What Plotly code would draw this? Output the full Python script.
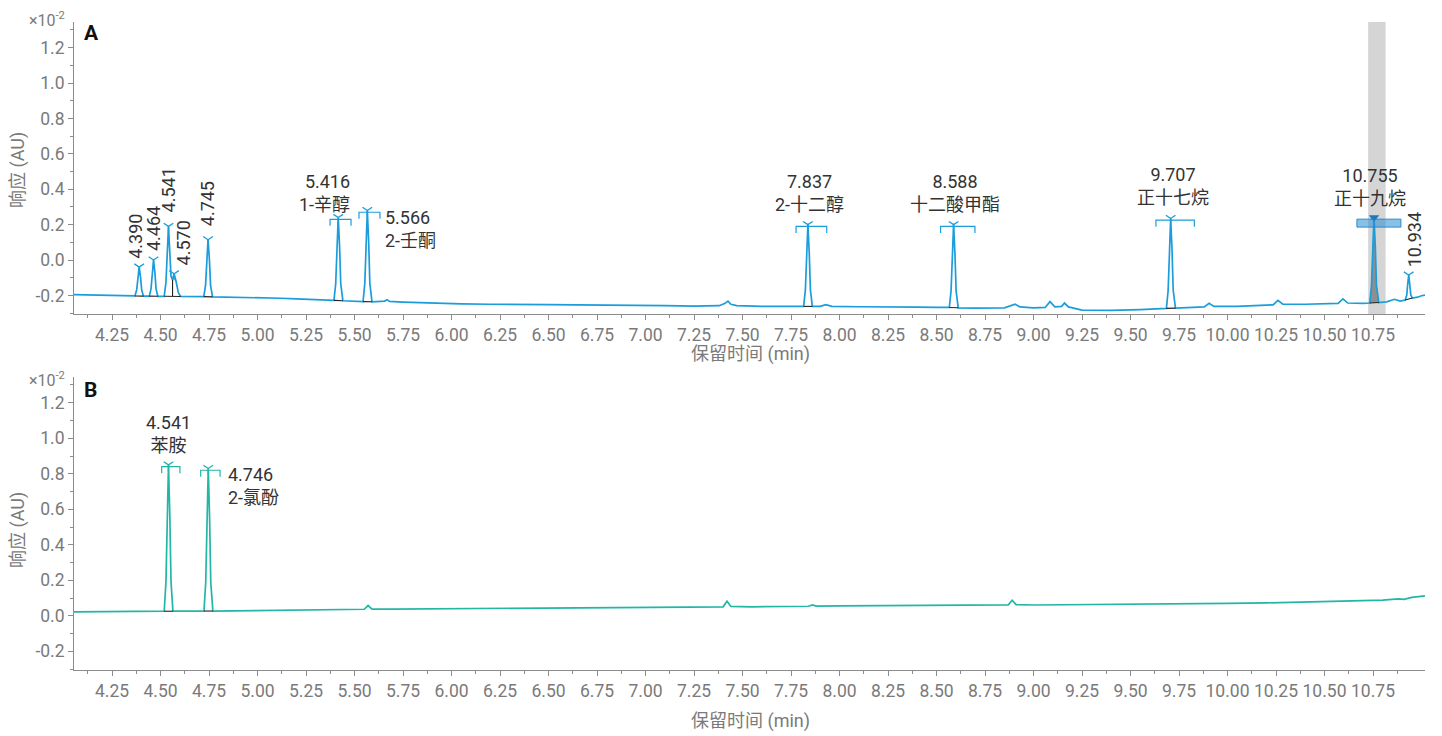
import plotly.graph_objects as go

# Chromatogram A: (retention time min, response AU x1e-2)
trace_a = [
    (4.054, -0.195), (4.10, -0.196), (4.15, -0.194), (4.19, -0.198), (4.22, -0.196), (4.28, -0.197),
    (4.33, -0.200), (4.355, -0.202),
    (4.368, -0.203), (4.377, -0.170), (4.383, -0.097), (4.390, -0.040), (4.397, -0.097), (4.403, -0.170),
    (4.412, -0.204),
    (4.428, -0.203),
    (4.442, -0.204), (4.451, -0.163), (4.457, -0.071), (4.464, 0.000), (4.471, -0.071), (4.477, -0.163),
    (4.486, -0.205),
    (4.505, -0.205),
    (4.519, -0.205), (4.528, -0.126), (4.534, 0.052), (4.541, 0.190), (4.548, 0.040), (4.554, -0.090),
    (4.562, -0.113), (4.570, -0.078), (4.580, -0.120), (4.592, -0.185), (4.604, -0.206),
    (4.65, -0.205), (4.70, -0.207),
    (4.723, -0.207), (4.732, -0.143), (4.738, 0.002), (4.745, 0.115), (4.752, 0.002), (4.758, -0.143),
    (4.768, -0.208),
    (4.85, -0.209), (4.95, -0.212), (5.05, -0.214), (5.12, -0.216), (5.20, -0.219), (5.28, -0.223), (5.35, -0.226),
    (5.394, -0.228), (5.403, -0.134), (5.409, 0.076), (5.416, 0.240), (5.423, 0.076), (5.429, -0.134),
    (5.440, -0.230),
    (5.49, -0.232), (5.52, -0.233),
    (5.544, -0.235), (5.553, -0.132), (5.559, 0.100), (5.566, 0.280), (5.573, 0.100), (5.579, -0.132),
    (5.590, -0.236),
    (5.63, -0.236), (5.655, -0.232), (5.668, -0.224), (5.68, -0.234), (5.75, -0.238), (5.85, -0.242),
    (5.95, -0.247), (6.05, -0.248), (6.20, -0.250), (6.35, -0.249), (6.50, -0.252), (6.65, -0.253),
    (6.80, -0.256), (6.95, -0.255), (7.10, -0.258), (7.25, -0.260), (7.38, -0.258), (7.41, -0.245),
    (7.425, -0.232), (7.44, -0.250), (7.47, -0.258), (7.60, -0.262), (7.75, -0.262),
    (7.815, -0.262), (7.824, -0.170), (7.830, 0.038), (7.837, 0.200), (7.844, 0.038), (7.850, -0.170),
    (7.860, -0.262),
    (7.90, -0.262), (7.93, -0.252), (7.96, -0.262), (8.10, -0.264), (8.25, -0.263), (8.40, -0.266), (8.50, -0.267),
    (8.566, -0.268), (8.575, -0.174), (8.581, 0.036), (8.588, 0.200), (8.595, 0.036), (8.601, -0.174),
    (8.612, -0.270),
    (8.70, -0.272), (8.85, -0.270), (8.89, -0.256), (8.905, -0.250), (8.93, -0.265), (9.00, -0.270),
    (9.06, -0.268), (9.085, -0.235), (9.11, -0.265), (9.145, -0.262), (9.16, -0.243), (9.18, -0.265),
    (9.25, -0.283), (9.40, -0.285), (9.55, -0.280), (9.65, -0.275),
    (9.685, -0.273), (9.694, -0.171), (9.700, 0.057), (9.707, 0.235), (9.714, 0.057), (9.720, -0.171),
    (9.732, -0.272),
    (9.80, -0.270), (9.88, -0.265), (9.905, -0.245), (9.93, -0.262), (10.05, -0.262), (10.20, -0.258),
    (10.235, -0.253), (10.26, -0.228), (10.285, -0.250), (10.40, -0.250), (10.50, -0.248), (10.57, -0.245),
    (10.595, -0.220), (10.62, -0.243), (10.70, -0.245),
    (10.733, -0.243), (10.742, -0.146), (10.748, 0.071), (10.755, 0.240), (10.762, 0.071), (10.768, -0.146),
    (10.780, -0.240),
    (10.82, -0.236), (10.86, -0.222), (10.89, -0.232),
    (10.916, -0.226), (10.924, -0.198), (10.929, -0.134), (10.934, -0.085), (10.939, -0.134), (10.945, -0.198),
    (10.953, -0.215),
    (10.98, -0.210), (11.00, -0.202), (11.018, -0.198),
]

# Chromatogram B: (retention time min, response AU x1e-2)
trace_b = [
    (4.054, 0.022), (4.15, 0.023), (4.25, 0.022), (4.35, 0.024), (4.45, 0.025),
    (4.519, 0.026), (4.528, 0.191), (4.534, 0.562), (4.541, 0.850), (4.548, 0.562), (4.554, 0.191),
    (4.564, 0.026),
    (4.62, 0.027), (4.68, 0.026),
    (4.724, 0.027), (4.733, 0.188), (4.739, 0.549), (4.746, 0.830), (4.753, 0.549), (4.759, 0.188),
    (4.770, 0.027),
    (4.85, 0.028), (5.00, 0.030), (5.15, 0.031), (5.30, 0.033), (5.45, 0.035), (5.55, 0.037),
    (5.57, 0.058), (5.59, 0.038), (5.70, 0.038), (5.90, 0.040), (6.10, 0.041), (6.30, 0.042),
    (6.50, 0.044), (6.70, 0.045), (6.90, 0.047), (7.10, 0.048), (7.30, 0.050), (7.40, 0.051),
    (7.42, 0.082), (7.44, 0.053), (7.55, 0.051), (7.70, 0.052), (7.84, 0.054), (7.86, 0.062),
    (7.88, 0.055), (8.00, 0.056), (8.20, 0.057), (8.40, 0.058), (8.60, 0.058), (8.80, 0.059),
    (8.87, 0.062), (8.89, 0.088), (8.91, 0.063), (9.00, 0.061), (9.20, 0.062), (9.40, 0.064),
    (9.60, 0.066), (9.80, 0.068), (10.00, 0.070), (10.20, 0.073), (10.40, 0.078), (10.55, 0.080),
    (10.70, 0.084), (10.80, 0.088), (10.88, 0.096), (10.91, 0.093), (10.95, 0.104), (11.018, 0.113),
]

# Detected peaks (retention time, min)
peaks_a = [4.390, 4.464, 4.541, 4.570, 4.745, 5.416, 5.566, 7.837, 8.588, 9.707, 10.755, 10.934]
peaks_b = [4.541, 4.746]

# Identified compounds
names_a = {5.416: "1-辛醇", 5.566: "2-壬酮", 7.837: "2-十二醇", 8.588: "十二酸甲酯",
           9.707: "正十七烷", 10.755: "正十九烷"}
names_b = {4.541: "苯胺", 4.746: "2-氯酚"}

# Integration limits (start, end), min
limits_a = [(4.368, 4.412), (4.442, 4.486), (4.519, 4.604), (4.723, 4.768), (5.394, 5.440),
            (5.544, 5.590), (7.815, 7.860), (8.566, 8.612), (9.685, 9.732), (10.733, 10.780),
            (10.916, 10.953)]
limits_b = [(4.519, 4.564), (4.724, 4.770)]
drop_a = 4.562  # perpendicular drop between 4.541 and 4.570

# Expected retention windows (start, end), min
windows_a = {5.416: (5.374, 5.482), 5.566: (5.523, 5.631), 7.837: (7.776, 7.934),
             8.588: (8.521, 8.698), 9.707: (9.631, 9.829), 10.755: (10.667, 10.894)}
windows_b = {4.541: (4.506, 4.600), 4.746: (4.707, 4.807)}
selected_peak = 10.755
selected_band = (10.725, 10.815)

x_tick_labels = ["4.25", "4.50", "4.75", "5.00", "5.25", "5.50", "5.75", "6.00", "6.25", "6.50",
                 "6.75", "7.00", "7.25", "7.50", "7.75", "8.00", "8.25", "8.50", "8.75", "9.00",
                 "9.25", "9.50", "9.75", "10.00", "10.25", "10.50", "10.75"]
y_tick_labels = ["-0.2", "0.0", "0.2", "0.4", "0.6", "0.8", "1.0", "1.2"]
y_minor = [-0.3, -0.1, 0.1, 0.3, 0.5, 0.7, 0.9, 1.1, 1.3]

BLUE = "#1b9ddb"
TEAL = "#22b6a7"
AXIS = "#8c8c8c"
TICK = "#7a7a7a"
TEXT = "#333333"
FONT = "Roboto, 'Noto Sans CJK SC', sans-serif"

XR = [4.054, 11.018]
YR = [-0.305, 1.345]

fig = go.Figure()


def add_panel(points, peaks, names, limits, windows, color, xa, ya, selected=None):
    t = [p[0] for p in points]
    v = [p[1] for p in points]
    lookup = dict(points)

    # shaded integration area of the selected peak
    if selected is not None:
        s, e = next(lim for lim in limits if lim[0] <= selected <= lim[1])
        ft = [p[0] for p in points if s <= p[0] <= e]
        fv = [p[1] for p in points if s <= p[0] <= e]
        fig.add_trace(go.Scatter(x=ft, y=fv, mode="lines", fill="toself",
                                 fillcolor="rgba(105,105,105,0.65)", line=dict(width=0),
                                 xaxis=xa, yaxis=ya, hoverinfo="skip"))

    fig.add_trace(go.Scatter(x=t, y=v, mode="lines", line=dict(color=color, width=1.7),
                             xaxis=xa, yaxis=ya))

    # integration baselines
    bx, by = [], []
    for s, e in limits:
        bx += [s, e, None]
        by += [lookup[s], lookup[e], None]
    if selected is not None:
        bx += [drop_a, drop_a, None]
        by += [lookup[4.519], lookup[drop_a], None]
    fig.add_trace(go.Scatter(x=bx, y=by, mode="lines", line=dict(color="#222222", width=1.1),
                             xaxis=xa, yaxis=ya, hoverinfo="skip"))

    # retention window brackets
    wx, wy = [], []
    for rt, (s, e) in windows.items():
        if rt == selected:
            continue
        top = lookup[rt] - 0.01
        low = top - 0.037
        wx += [s, s, e, e, None]
        wy += [low, top, top, low, None]
    fig.add_trace(go.Scatter(x=wx, y=wy, mode="lines", line=dict(color=color, width=1.2),
                             xaxis=xa, yaxis=ya, hoverinfo="skip"))

    # apex markers
    mk = [rt for rt in peaks if rt != selected]
    fig.add_trace(go.Scatter(x=mk, y=[lookup[rt] for rt in mk], mode="markers",
                             marker=dict(symbol="y-down", size=8, color=color,
                                         line=dict(color=color, width=1.3)),
                             xaxis=xa, yaxis=ya, hoverinfo="skip"))


add_panel(trace_a, peaks_a, names_a, limits_a, windows_a, BLUE, "x", "y", selected=selected_peak)
add_panel(trace_b, peaks_b, names_b, limits_b, windows_b, TEAL, "x2", "y2")

apex_a = dict(trace_a)
apex_b = dict(trace_b)

# selected peak marker
fig.add_trace(go.Scatter(x=[selected_peak], y=[apex_a[selected_peak]], mode="markers",
                         marker=dict(symbol="triangle-down", size=9, color="#1c78bd"),
                         xaxis="x", yaxis="y", hoverinfo="skip"))

shapes = [
    dict(type="rect", xref="x", yref="y domain", x0=selected_band[0], x1=selected_band[1],
         y0=0, y1=1, fillcolor="#d5d5d5", line=dict(width=0), layer="below"),
    dict(type="rect", xref="x", yref="y", x0=windows_a[selected_peak][0], x1=windows_a[selected_peak][1],
         y0=apex_a[selected_peak] - 0.054, y1=apex_a[selected_peak] - 0.009,
         fillcolor="rgba(40,140,210,0.55)", line=dict(color="rgba(30,130,205,0.9)", width=1)),
]

annotations = []
lab_font = dict(family=FONT, size=18, color=TEXT)

# placement of named-peak labels: (xanchor, align, xshift px, yshift px)
place_a = {5.416: ("right", "right", 14, 25), 5.566: ("left", "left", 16, -19),
           7.837: ("center", "center", 2, 32), 8.588: ("center", "center", 1, 32),
           9.707: ("center", "center", 2, 32), 10.755: ("center", "center", -4, 31)}
place_b = {4.541: ("center", "center", 0, 31), 4.746: ("left", "left", 18, -18)}

for rt, name in names_a.items():
    xa_, al, dx, dy = place_a[rt]
    annotations.append(dict(x=rt, y=apex_a[rt], xref="x", yref="y", text=f"{rt:.3f}<br>{name}",
                            showarrow=False, xanchor=xa_, yanchor="middle", align=al,
                            xshift=dx, yshift=dy, font=lab_font))
for rt, name in names_b.items():
    xa_, al, dx, dy = place_b[rt]
    annotations.append(dict(x=rt, y=apex_b[rt], xref="x2", yref="y2", text=f"{rt:.3f}<br>{name}",
                            showarrow=False, xanchor=xa_, yanchor="middle", align=al,
                            xshift=dx, yshift=dy, font=lab_font))

# unnamed peaks carry a vertical retention-time label
vert_shift = {4.390: (-4, 6), 4.464: (0, 7), 4.541: (0, 12), 4.570: (9, 6), 4.745: (-1, 11), 10.934: (6, 6)}
for rt in peaks_a:
    if rt in names_a:
        continue
    dx, dy = vert_shift[rt]
    annotations.append(dict(x=rt, y=apex_a[rt], xref="x", yref="y", text=f"{rt:.3f}",
                            showarrow=False, textangle=-90, xanchor="center", yanchor="bottom",
                            xshift=dx, yshift=dy, font=lab_font))

# panel letters, axis titles and exponent
H_PLOT = 648.0
W_PLOT = 1351.0


def px(xp):
    return (xp - 74) / W_PLOT


def py(yp):
    return (670 - yp) / H_PLOT


title_font = dict(family=FONT, size=18, color=TICK)
for letter, yl, ymul, ytitle, xtitle in [("A", 33, 19, 170, 354), ("B", 390, 379, 530, 721)]:
    annotations.append(dict(x=px(82), y=py(yl), xref="paper", yref="paper", text=f"<b>{letter}</b>",
                            showarrow=False, xanchor="left", yanchor="middle",
                            font=dict(family=FONT, size=21, color="#111111")))
    annotations.append(dict(x=px(67), y=py(ymul), xref="paper", yref="paper", text="×10<sup>-2</sup>",
                            showarrow=False, xanchor="right", yanchor="middle",
                            font=dict(family=FONT, size=16, color=TICK)))
    annotations.append(dict(x=px(18), y=py(ytitle), xref="paper", yref="paper", text="响应 (AU)",
                            showarrow=False, xanchor="center", yanchor="middle", textangle=-90,
                            font=title_font))
    annotations.append(dict(x=px(750), y=py(xtitle), xref="paper", yref="paper", text="保留时间 (min)",
                            showarrow=False, xanchor="center", yanchor="middle", font=title_font))

x_vals = [float(s) for s in x_tick_labels]
y_vals = [float(s) for s in y_tick_labels]


def xaxis_style(anchor):
    return dict(range=XR, anchor=anchor, domain=[0, 1], tickmode="array", tickvals=x_vals,
                ticktext=x_tick_labels, showline=True, linecolor=AXIS, linewidth=1,
                ticks="outside", ticklen=5, tickcolor=AXIS, tickwidth=1,
                tickfont=dict(family=FONT, size=17.5, color=TICK), showgrid=False, zeroline=False,
                minor=dict(ticks="outside", ticklen=3, tickcolor=AXIS, tickmode="linear",
                           tick0=4.125, dtick=0.25))


def yaxis_style(anchor, domain):
    return dict(range=YR, anchor=anchor, domain=domain, tickmode="array", tickvals=y_vals,
                ticktext=y_tick_labels, showline=True, linecolor=AXIS, linewidth=1,
                ticks="outside", ticklen=5, tickcolor=AXIS, tickwidth=1,
                tickfont=dict(family=FONT, size=17.5, color=TICK), showgrid=False, zeroline=False,
                minor=dict(ticks="outside", ticklen=3, tickcolor=AXIS, tickmode="array",
                           tickvals=y_minor))


fig.update_layout(
    width=1442, height=736,
    margin=dict(l=74, r=17, t=22, b=66),
    paper_bgcolor="white", plot_bgcolor="white",
    showlegend=False,
    xaxis=xaxis_style("y"),
    yaxis=yaxis_style("x", [py(314), 1.0]),
    xaxis2=xaxis_style("y2"),
    yaxis2=yaxis_style("x2", [0.0, py(377)]),
    shapes=shapes,
    annotations=annotations,
    font=dict(family=FONT),
)

fig.write_html("out.html")
